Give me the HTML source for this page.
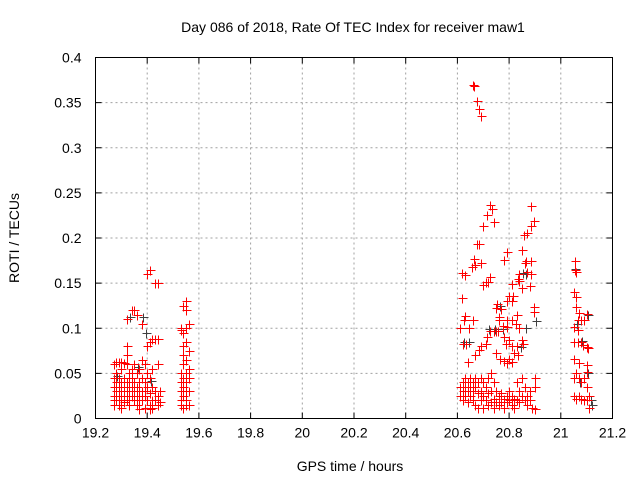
<!DOCTYPE html>
<html><head><meta charset="utf-8"><style>
html,body{margin:0;padding:0;background:#fff;}
svg{display:block;font-family:"Liberation Sans",sans-serif;}
</style></head><body>
<svg id="chart" width="640" height="480" viewBox="0 0 640 480">
<text x="353" y="32" font-size="14" text-anchor="middle">Day 086 of 2018, Rate Of TEC Index for receiver maw1</text>
<text x="350" y="471" font-size="14" text-anchor="middle">GPS time / hours</text>
<text x="19" y="238" font-size="14" text-anchor="middle" transform="rotate(-90 19 238)">ROTI / TECUs</text>
<g id="grid"></g>
<g id="ticks"></g>
<g id="gray"></g>
<g id="red"></g>
<rect x="95.5" y="57.5" width="517" height="361" fill="none" stroke="#000" stroke-width="1"/>
</svg>
<script>
const xTicks=[19.2,19.4,19.6,19.8,20,20.2,20.4,20.6,20.8,21,21.2];
const yTicks=[0,0.05,0.1,0.15,0.2,0.25,0.3,0.35,0.4];
const yTickLabels=["0","0.05","0.1","0.15","0.2","0.25","0.3","0.35","0.4"];
const redPoints=[
[19.27,.045],[19.27,.035],[19.27,.025],[19.27,.015],[19.27,.06],[19.27,.02],
[19.28,.063],[19.28,.05],[19.28,.03],[19.28,.02],[19.28,.04],
[19.29,.063],[19.29,.025],[19.29,.015],[19.29,.035],[19.29,.045],
[19.30,.063],[19.30,.03],[19.30,.02],[19.30,.04],[19.30,.055],[19.30,.012],
[19.31,.062],[19.31,.035],[19.31,.025],[19.31,.045],[19.31,.018],
[19.32,.06],[19.32,.08],[19.32,.07],[19.32,.03],[19.32,.02],[19.32,.04],[19.32,.11],
[19.33,.05],[19.33,.03],[19.33,.02],[19.33,.04],[19.33,.015],
[19.34,.12],[19.34,.025],[19.34,.035],[19.34,.045],[19.34,.055],
[19.35,.12],[19.35,.02],[19.35,.03],[19.35,.06],[19.35,.04],
[19.36,.115],[19.36,.025],[19.36,.015],[19.36,.035],[19.36,.05],
[19.37,.04],[19.37,.03],[19.37,.02],[19.37,.055],[19.37,.01],
[19.38,.105],[19.38,.065],[19.38,.045],[19.38,.02],[19.38,.03],
[19.39,.06],[19.39,.04],[19.39,.025],[19.39,.012],[19.39,.03],
[19.40,.16],[19.40,.08],[19.40,.05],[19.40,.035],[19.40,.02],
[19.41,.165],[19.41,.085],[19.41,.045],[19.41,.028],[19.41,.015],[19.41,.01],
[19.42,.088],[19.42,.055],[19.42,.035],[19.42,.02],[19.42,.012],
[19.43,.15],[19.43,.088],[19.43,.03],[19.43,.02],
[19.44,.15],[19.44,.088],[19.44,.06],[19.44,.025],[19.44,.015],[19.45,.03],[19.45,.018],
[19.53,.1],[19.53,.098],[19.53,.05],[19.53,.04],[19.53,.03],[19.53,.015],[19.53,.02],
[19.54,.125],[19.54,.095],[19.54,.08],[19.54,.06],[19.54,.045],[19.54,.035],[19.54,.025],[19.54,.012],[19.54,.07],
[19.55,.13],[19.55,.12],[19.55,.1],[19.55,.085],[19.55,.065],[19.55,.05],[19.55,.04],[19.55,.03],[19.55,.02],[19.55,.015],
[19.56,.105],[19.56,.075],[19.56,.055],[19.56,.045],[19.56,.03],[19.56,.015],
[20.661,.369],[20.665,.368],[20.674,.352],[20.683,.343],[20.69,.335],
[20.725,.237],[20.735,.232],[20.713,.225],[20.74,.218],[20.698,.213],[20.883,.235],[20.895,.219],[20.883,.213],[20.87,.206],[20.856,.203],
[20.677,.193],[20.685,.193],[20.793,.184],[20.848,.187],[20.78,.176],[20.864,.175],[20.883,.175],[20.86,.172],
[20.663,.177],[20.657,.168],[20.67,.17],[20.69,.172],[20.619,.161],[20.63,.159],[21.053,.175],[21.053,.164],[21.06,.162],
[20.84,.16],[20.885,.16],[20.87,.162],[20.728,.157],[20.709,.151],[20.7,.148],[20.72,.151],[20.81,.149],[20.84,.152],[20.848,.145],[20.88,.147],[20.834,.155],
[20.616,.133],[21.05,.14],[21.06,.135],[21.06,.124],
[20.754,.127],[20.75,.122],[20.77,.121],[20.79,.13],[20.8,.136],[20.81,.13],[20.815,.136],[20.895,.123],[20.895,.118],
[20.631,.114],[20.625,.109],[20.66,.109],[20.61,.1],[20.645,.1],[20.76,.113],[20.76,.109],[20.775,.103],
[20.79,.109],[20.81,.109],[20.83,.115],[20.825,.105],[20.84,.1],[20.79,.101],
[21.07,.117],[21.1,.116],[21.065,.109],[21.08,.109],[21.09,.109],[21.05,.101],[21.065,.098],
[20.728,.0975],[20.74,.0975],[20.75,.0975],[20.757,.097],[20.715,.09],[20.71,.082],[20.69,.08],[20.684,.076],[20.67,.07],[20.64,.063],[20.62,.083],[20.632,.082],
[20.78,.09],[20.787,.082],[20.8,.087],[20.81,.08],[20.83,.08],[20.82,.073],[20.835,.07],[20.848,.087],[20.855,.083],[20.75,.073],[20.765,.066],[20.78,.064],[20.79,.062],[20.8,.066],[20.81,.063],
[21.05,.085],[21.065,.085],[21.08,.085],[21.085,.081],[21.1,.079],[21.105,.078],[21.05,.066],[21.07,.062],[21.1,.059],[21.1,.052],
[20.61,.035],[20.61,.025],[20.62,.04],[20.62,.03],[20.62,.02],[20.63,.045],[20.63,.035],[20.63,.025],[20.64,.04],[20.64,.03],[20.64,.018],
[20.65,.045],[20.65,.035],[20.65,.025],[20.66,.04],[20.66,.03],[20.66,.02],[20.67,.045],[20.67,.035],[20.67,.015],[20.68,.04],[20.68,.028],[20.68,.012],
[20.69,.045],[20.69,.03],[20.69,.02],[20.70,.04],[20.70,.025],[20.70,.012],[20.71,.035],[20.71,.02],[20.72,.045],[20.72,.028],[20.72,.015],
[20.73,.05],[20.73,.03],[20.73,.018],[20.74,.04],[20.74,.022],[20.74,.012],[20.75,.03],[20.75,.018],[20.76,.025],[20.76,.015],[20.77,.028],[20.77,.018],
[20.78,.022],[20.78,.012],[20.79,.025],[20.79,.018],[20.80,.03],[20.80,.02],[20.81,.025],[20.81,.015],[20.82,.022],[20.82,.012],[20.83,.04],[20.83,.02],
[20.84,.03],[20.84,.018],[20.85,.045],[20.85,.025],[20.86,.035],[20.86,.02],[20.87,.025],[20.87,.015],[20.88,.03],[20.88,.02],[20.89,.012],[20.90,.045],[20.90,.035],[20.90,.01],
[21.05,.045],[21.05,.025],[21.06,.05],[21.06,.022],[21.07,.045],[21.07,.025],[21.08,.04],[21.08,.022],[21.09,.045],[21.09,.02],[21.10,.035],[21.10,.02],[21.11,.025],[21.11,.012]
];
const grayPoints=[
[19.285,.047],[19.335,.112],[19.365,.057],[19.385,.112],[19.395,.095],[19.415,.042],
[20.625,.085],[20.645,.085],[20.722,.099],[20.745,.099],[20.765,.125],[20.775,.099],[20.845,.079],[20.853,.161],[20.865,.16],[20.866,.10],[20.905,.108],
[21.055,.166],[21.063,.105],[21.075,.04],[21.083,.086],[21.105,.115],[21.105,.05],[21.115,.02],[21.12,.015]
];
const NS="http://www.w3.org/2000/svg";
const L=95.5,R=612.5,T=57.5,B=418.5;
function sx(v){return L+(v-19.2)/2*(R-L);}
function sy(v){return B-v/0.4*(B-T);}
function mk(tag,attrs,parent){const e=document.createElementNS(NS,tag);for(const k in attrs)e.setAttribute(k,attrs[k]);parent.appendChild(e);return e;}
const grid=document.getElementById('grid'),ticks=document.getElementById('ticks');
xTicks.forEach((t,i)=>{const x=sx(t);
 if(i>0&&i<xTicks.length-1){const g=mk('line',{x1:x,x2:x,y1:T,y2:B,stroke:'#a0a0a0','stroke-dasharray':'2,3'},grid);
 
 }
 mk('line',{x1:x,x2:x,y1:B,y2:B-6,stroke:'#000'},ticks);mk('line',{x1:x,x2:x,y1:T,y2:T+6,stroke:'#000'},ticks);
 const tx=mk('text',{x:x,y:B+19,'font-size':14,'text-anchor':'middle'},ticks);tx.textContent=String(t);
 
 
});
yTicks.forEach((t,i)=>{const y=sy(t);
 if(i>0&&i<yTicks.length-1){const g=mk('line',{x1:L,x2:R,y1:y,y2:y,stroke:'#a0a0a0','stroke-dasharray':'2,3'},grid);
 
 }
 mk('line',{x1:L,x2:L+6,y1:y,y2:y,stroke:'#000'},ticks);mk('line',{x1:R,x2:R-6,y1:y,y2:y,stroke:'#000'},ticks);
 const tx=mk('text',{x:L-14,y:y+5,'font-size':14,'text-anchor':'end'},ticks);tx.textContent=yTickLabels[i];
 
 
});
function plus(pts,g,color,name){pts.forEach(p=>{const x=Math.round(sx(p[0]))+0.5,y=Math.round(sy(p[1]))+0.5;
 const e=mk('path',{d:`M${x-4} ${y}H${x+5}M${x} ${y-4}V${y+5}`,stroke:color,'stroke-width':1.3,fill:'none','shape-rendering':'crispEdges'},g);
 
 
});}
plus(grayPoints,document.getElementById('gray'),'#404040','gray-point');
plus(redPoints,document.getElementById('red'),'#ff0000','red-point');
</script>
</body></html>
